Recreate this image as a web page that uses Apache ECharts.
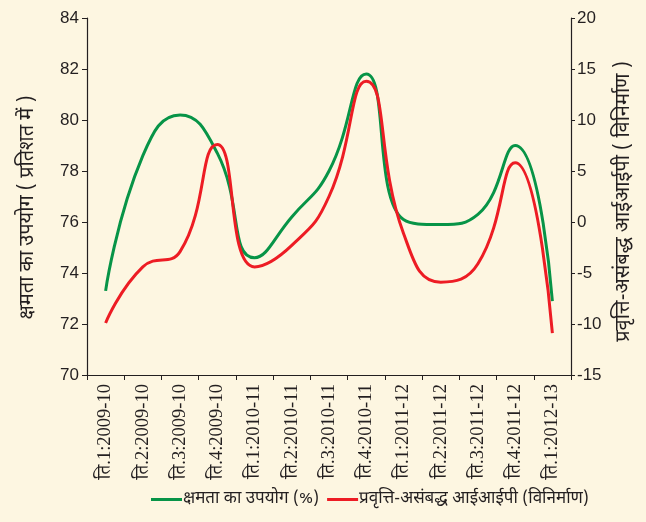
<!DOCTYPE html>
<html>
<head>
<meta charset="utf-8">
<script src="https://cdn.jsdelivr.net/npm/echarts@6/dist/echarts.min.js"></script>
<style>
html,body{margin:0;padding:0;background:#fdf6e1;}
#c{width:646px;height:522px;}
</style>
</head>
<body>
<div id="c"></div>
<script>
const categories = ['ति.1:2009-10','ति.2:2009-10','ति.3:2009-10','ति.4:2009-10','ति.1:2010-11','ति.2:2010-11','ति.3:2010-11','ति.4:2010-11','ति.1:2011-12','ति.2:2011-12','ति.3:2011-12','ति.4:2011-12','ति.1:2012-13'];
const capacityUtil = [73.3, 78.6, 80.2, 78.7, 74.6, 76.2, 78.0, 81.8, 76.1, 75.9, 76.3, 79.0, 72.9];
const iipMfg = [-9.9, -4.4, -2.9, 7.6, -4.4, -2.3, 2.5, 13.8, -1.1, -5.9, -4.1, 5.8, -10.9];
const seriesNames = ['क्षमता का उपयोग (%)', 'प्रवृत्ति-असंबद्ध आईआईपी (विनिर्माण)'];
const leftAxisName = 'क्षमता का उपयोग ( प्रतिशत में )';
const rightAxisName = 'प्रवृत्ति-असंबद्ध आईआईपी ( विनिर्माण )';

const axisCol = '#231f20';
const devFont = '"Noto Sans Devanagari","Noto Serif Devanagari","Lohit Devanagari","Liberation Sans",sans-serif';
const serifFont = '"Liberation Serif","Noto Serif Devanagari","Noto Sans Devanagari",serif';
const numFont = '"Liberation Sans","DejaVu Sans",sans-serif';

const chart = echarts.init(document.getElementById('c'));
chart.setOption({
  backgroundColor: '#fdf6e1',
  animation: false,
  grid: {left: 87, right: 75, top: 18, bottom: 147},
  legend: {
    bottom: 9, left: 146,
    icon: 'rect',
    itemWidth: 31, itemHeight: 3, itemGap: 8,
    textStyle: {fontSize: 17, color: axisCol, fontFamily: devFont, padding: [0, 0, 0, -4]},
    data: seriesNames
  },
  xAxis: {
    type: 'category',
    data: categories,
    boundaryGap: true,
    axisLine: {onZero: false, lineStyle: {color: axisCol, width: 1.2}},
    axisTick: {show: true, length: 5, lineStyle: {color: axisCol}},
    axisLabel: {rotate: 90, interval: 0, fontSize: 18.5, color: axisCol, fontFamily: serifFont, margin: 9}
  },
  yAxis: [
    {
      type: 'value', min: 70, max: 84, interval: 2,
      name: leftAxisName, nameLocation: 'middle', nameGap: 48, nameRotate: 90,
      nameTextStyle: {fontSize: 20, color: axisCol, fontFamily: devFont, padding: [0, 22, 0, 0]},
      axisLine: {show: true, lineStyle: {color: axisCol, width: 1.2}},
      axisTick: {show: true, length: 5, lineStyle: {color: axisCol}},
      splitLine: {show: false},
      axisLabel: {fontSize: 17, color: axisCol, fontFamily: numFont, margin: 8}
    },
    {
      type: 'value', min: -15, max: 20, interval: 5, position: 'right',
      name: rightAxisName, nameLocation: 'middle', nameGap: 44, nameRotate: 90,
      nameTextStyle: {fontSize: 20, color: axisCol, fontFamily: devFont, padding: [0, 10, 0, 0]},
      axisLine: {show: true, lineStyle: {color: axisCol, width: 1.2}},
      axisTick: {show: true, length: 4, lineStyle: {color: axisCol}},
      splitLine: {show: false},
      axisLabel: {fontSize: 17, color: axisCol, fontFamily: numFont, margin: 6}
    }
  ],
  series: [
    {
      name: seriesNames[0], type: 'line', data: capacityUtil, yAxisIndex: 0,
      smooth: 0.5, symbol: 'none', lineStyle: {color: '#079447', width: 3}, itemStyle: {color: '#079447'}
    },
    {
      name: seriesNames[1], type: 'line', data: iipMfg, yAxisIndex: 1,
      smooth: 0.5, symbol: 'none', lineStyle: {color: '#ed1c24', width: 3}, itemStyle: {color: '#ed1c24'}
    }
  ]
});
</script>
</body>
</html>
